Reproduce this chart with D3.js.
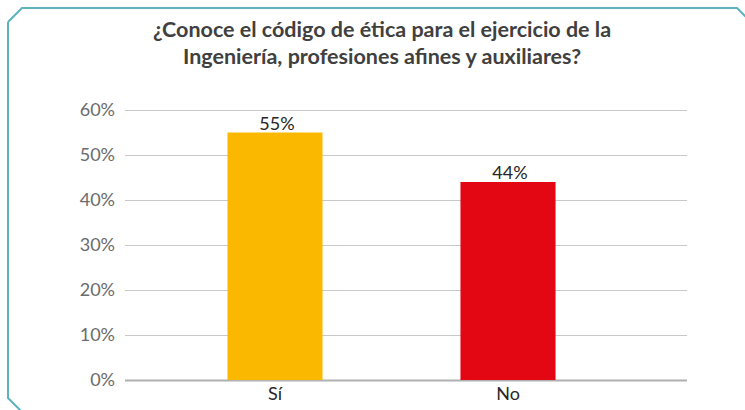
<!DOCTYPE html>
<html><head><meta charset="utf-8">
<script src="https://cdn.jsdelivr.net/npm/d3@7"></script>
<style>body{margin:0;background:#fff;}svg{display:block;}</style>
</head><body>
<script>
const categories = ["Sí", "No"];
const values = [0.55, 0.44];
const valueLabels = ["55%", "44%"];
const barColors = ["#FBB800", "#E30613"];
const yTicks = [0, 0.1, 0.2, 0.3, 0.4, 0.5, 0.6];
const titleLines = ["¿Conoce el código de ética para el ejercicio de la", "Ingeniería, profesiones afines y auxiliares?"];

const W = 745, H = 410;
const svg = d3.select("body").append("svg").attr("width", W).attr("height", H);

// frame with chamfered corners
const c = 14;
svg.append("path")
  .attr("d", `M8,${8+c} L${8+c},8 L${W-8},8 L${W+6},22 M8,${8+c} L8,${H-12} L${8+14},${H+2}`)
  .attr("fill", "none").attr("stroke", "#5CB3BE").attr("stroke-width", 2);

const font = "Lato, 'Open Sans', sans-serif";
svg.selectAll("text.title").data(titleLines).enter().append("text")
  .attr("class", "title")
  .attr("x", 382).attr("y", (d, i) => 37 + i * 27)
  .attr("text-anchor", "middle")
  .attr("font-family", font).attr("font-weight", "bold").attr("font-size", 21.5)
  .attr("fill", "#404040").text(d => d);

const y = d3.scaleLinear().domain([0, 0.6]).range([380, 110]);
const x = d3.scaleBand().domain(categories).range([158.5, 624.5]).paddingInner(0.592).paddingOuter(0.296);
const left = 125, right = 687;

// gridlines
svg.append("g").selectAll("line").data(yTicks).enter().append("line")
  .attr("x1", left).attr("x2", right)
  .attr("y1", d => Math.round(y(d)) + 0.5).attr("y2", d => Math.round(y(d)) + 0.5)
  .attr("stroke", d => d === 0 ? "#B0B0B0" : "#C8C8C8")
  .attr("stroke-width", d => d === 0 ? 2 : 1.2);

// y axis labels
const yAxis = d3.axisLeft(y).tickValues(yTicks).tickFormat(d3.format(".0%")).tickSize(0).tickPadding(10);
const ga = svg.append("g").attr("transform", `translate(${left},0)`).call(yAxis);
ga.select(".domain").remove();
ga.selectAll("text").attr("font-family", font).attr("font-size", 18).attr("fill", "#6b6b6b");

// bars
svg.append("g").selectAll("rect").data(categories).enter().append("rect")
  .attr("x", d => x(d)).attr("width", x.bandwidth())
  .attr("y", (d, i) => y(values[i])).attr("height", (d, i) => y(0) - y(values[i]))
  .attr("fill", (d, i) => barColors[i]);

// value labels
svg.append("g").selectAll("text").data(categories).enter().append("text")
  .attr("x", d => x(d) + x.bandwidth() / 2 + 2)
  .attr("y", (d, i) => y(values[i]) - 3)
  .attr("text-anchor", "middle")
  .attr("font-family", font).attr("font-size", 18).attr("fill", "#262626")
  .text((d, i) => valueLabels[i]);

// x axis labels
const xAxis = d3.axisBottom(x).tickSize(0).tickPadding(7);
const gx = svg.append("g").attr("transform", `translate(0,${y(0)})`).call(xAxis);
gx.select(".domain").remove();
gx.selectAll("text").attr("font-family", font).attr("font-size", 18).attr("fill", "#262626");
</script>
</body></html>
